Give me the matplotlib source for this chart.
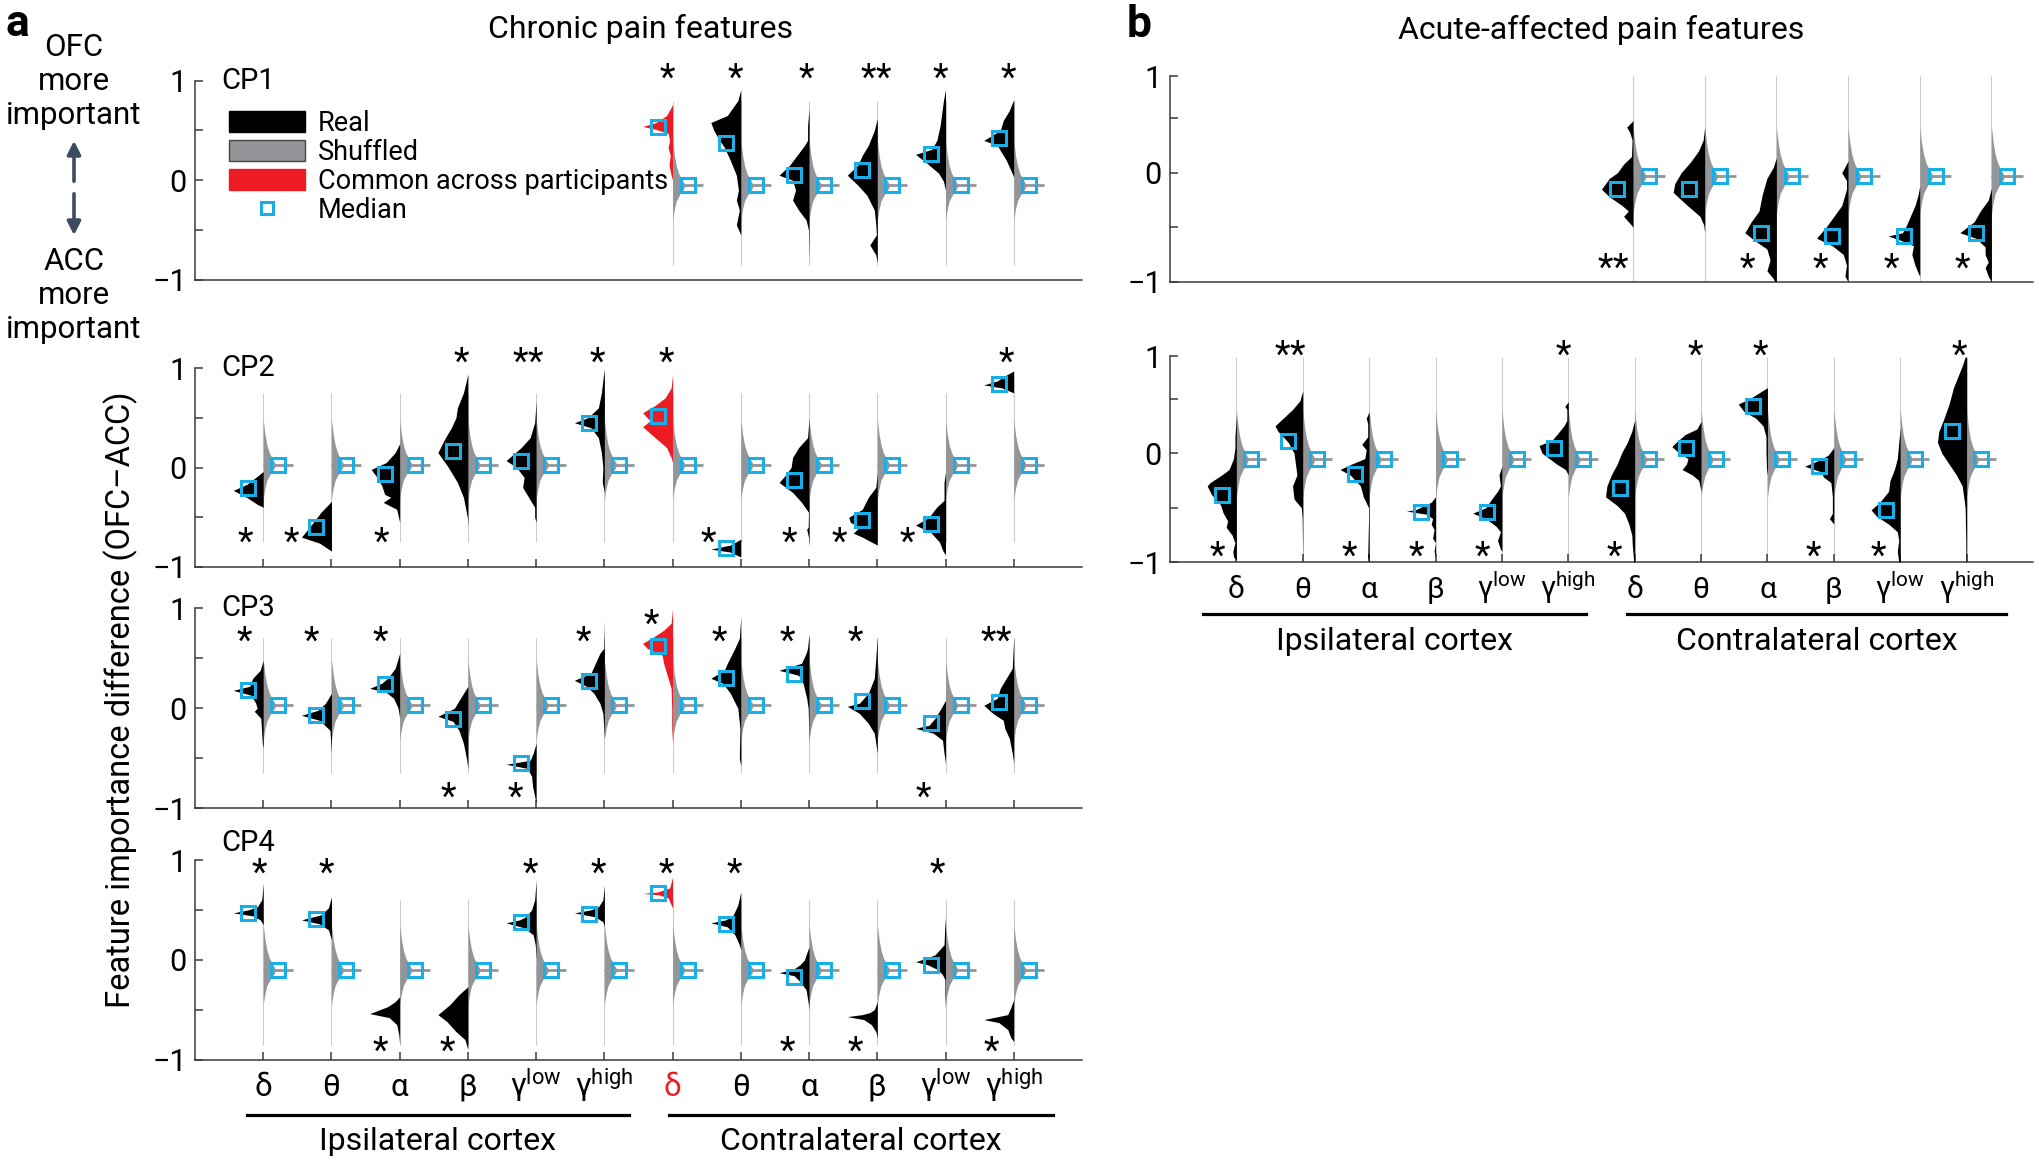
import numpy as np
import matplotlib
matplotlib.use('Agg')
import matplotlib.pyplot as plt
from matplotlib.patches import Patch, FancyArrowPatch
from matplotlib.lines import Line2D
from matplotlib import transforms

plt.rcParams['font.family'] = ['Roboto', 'DejaVu Sans']
plt.rcParams['mathtext.default'] = 'regular'

W, H = 2040, 1164
BLACK = '#000000'
GREY = '#939598'
RED = '#ED1C24'
CYAN = '#19AEE6'
SPINE = '#3a3a3a'
TAIL = '#cccccc'
ARROW = '#3d4b5e'
HALF = 0.44      # max half-width of a violin, in slot units
nan = np.nan

BANDS = ['δ', 'θ', 'α', 'β', r'$\mathregular{γ^{low}}$', r'$\mathregular{γ^{high}}$']
XLABELS = BANDS + BANDS

# shuffled violin profile, relative to its median: (dy, width fraction)
SHUF_DY = np.array([0.45, 0.3, 0.2, 0.12, 0.06, 0.02, 0.0, -0.04, -0.09, -0.16, -0.25, -0.35])
SHUF_W = np.array([0.0, 0.06, 0.12, 0.2, 0.3, 0.38, 0.42, 0.36, 0.24, 0.12, 0.05, 0.0])

# ---- panel a, CP1 ----
CP1_REAL = [None] * 6 + [
    [(0.76, 0), (0.65, 0.2), (0.58, 0.55), (0.54, 1.0), (0.51, 0.55), (0.47, 0.15), (0.40, 0.1), (0.33, 0.15), (0.25, 0.08), (0.15, 0.12), (0.05, 0.05), (0.0, 0)],
    [(0.91, 0), (0.8, 0.1), (0.65, 0.45), (0.58, 1.0), (0.5, 0.9), (0.42, 0.75), (0.33, 0.55), (0.2, 0.35), (0.05, 0.15), (-0.1, 0.08), (-0.2, 0.15), (-0.3, 0.05), (-0.45, 0.15), (-0.55, 0)],
    [(0.72, 0), (0.55, 0.05), (0.4, 0.05), (0.35, 0.15), (0.25, 0.4), (0.15, 0.65), (0.05, 1.0), (0.0, 0.55), (-0.1, 0.45), (-0.2, 0.55), (-0.3, 0.35), (-0.4, 0.1), (-0.5, 0.02), (-0.8, 0)],
    [(0.62, 0), (0.5, 0.1), (0.35, 0.3), (0.25, 0.5), (0.15, 0.65), (0.05, 1.0), (-0.05, 0.65), (-0.15, 0.35), (-0.3, 0.1), (-0.45, 0.05), (-0.55, 0.03), (-0.65, 0.25), (-0.75, 0.05), (-0.83, 0)],
    [(0.91, 0), (0.8, 0.07), (0.55, 0.18), (0.4, 0.29), (0.31, 0.46), (0.26, 1.0), (0.17, 0.62), (0.07, 0.23), (-0.01, 0.07), (-0.1, 0)],
    [(0.81, 0), (0.7, 0.15), (0.6, 0.35), (0.5, 0.45), (0.4, 1.0), (0.35, 0.55), (0.2, 0.25), (0.1, 0.1), (0.03, 0)],
]
CP1_MED = [nan] * 6 + [0.53, 0.37, 0.05, 0.10, 0.26, 0.42]
CP1_SHUF = [nan] * 6 + [-0.05] * 6
CP1_TAIL = (0.8, -0.85)
CP1_STARS = [(7, 1.09, '*', -0.07), (8, 1.09, '*', -0.08), (9, 1.09, '*', -0.04),
             (10, 1.09, '**', -0.02), (11, 1.09, '*', -0.07), (12, 1.09, '*', -0.08)]

# ---- panel a, CP2 ----
CP2_REAL = [
    [(-0.04, 0), (-0.1, 0.25), (-0.17, 0.55), (-0.23, 1.0), (-0.3, 0.55), (-0.37, 0.2), (-0.4, 0)],
    [(-0.34, 0), (-0.45, 0.35), (-0.55, 0.6), (-0.7, 1.0), (-0.76, 0.4), (-0.84, 0)],
    [(0.24, 0), (0.15, 0.15), (0.05, 0.45), (-0.02, 0.95), (-0.08, 0.8), (-0.18, 0.6), (-0.27, 0.5), (-0.3, 0.3), (-0.35, 0.55), (-0.42, 0.1), (-0.55, 0)],
    [(0.94, 0), (0.75, 0.15), (0.6, 0.35), (0.5, 0.4), (0.4, 0.55), (0.3, 0.75), (0.15, 1.0), (0.0, 0.65), (-0.15, 0.35), (-0.3, 0.15), (-0.5, 0.02), (-0.58, 0)],
    [(0.67, 0), (0.45, 0.05), (0.3, 0.2), (0.2, 0.5), (0.07, 1.0), (0.0, 0.65), (-0.1, 0.4), (-0.2, 0.45), (-0.3, 0.25), (-0.4, 0.05), (-0.5, 0.05), (-0.55, 0)],
    [(0.99, 0), (0.88, 0.05), (0.75, 0.1), (0.6, 0.2), (0.5, 0.55), (0.45, 1.0), (0.4, 0.45), (0.3, 0.2), (0.15, 0.1), (0.0, 0.05), (-0.15, 0.07), (-0.25, 0)],
    [(0.94, 0), (0.8, 0.05), (0.7, 0.25), (0.62, 0.6), (0.55, 1.0), (0.47, 0.75), (0.41, 1.0), (0.33, 0.7), (0.2, 0.2), (0.1, 0.05), (0.05, 0)],
    [(-0.72, 0), (-0.78, 0.35), (-0.82, 1.0), (-0.85, 0.35), (-0.9, 0)],
    [(0.5, 0), (0.3, 0.05), (0.2, 0.35), (0.1, 0.55), (0.0, 0.6), (-0.1, 0.85), (-0.15, 1.0), (-0.25, 0.55), (-0.35, 0.25), (-0.45, 0.02), (-0.6, 0.03), (-0.62, 0.08), (-0.7, 0.02), (-0.8, 0)],
    [(-0.05, 0), (-0.2, 0.05), (-0.3, 0.3), (-0.42, 0.5), (-0.5, 0.95), (-0.55, 0.9), (-0.6, 0.6), (-0.66, 0.8), (-0.7, 0.5), (-0.78, 0)],
    [(-0.05, 0), (-0.15, 0.05), (-0.33, 0.05), (-0.4, 0.3), (-0.5, 0.55), (-0.58, 1.0), (-0.65, 0.5), (-0.75, 0.2), (-0.83, 0.1), (-0.88, 0)],
    [(0.97, 0), (0.92, 0.3), (0.87, 0.55), (0.83, 1.0), (0.8, 0.4), (0.75, 0)],
]
CP2_MED = [-0.21, -0.6, -0.07, 0.17, 0.07, 0.45, 0.52, -0.81, -0.13, -0.53, -0.57, 0.84]
CP2_SHUF = [0.03] * 12
CP2_TAIL = (0.75, -0.75)
CP2_STARS = [(4, 1.12, '*', -0.09), (5, 1.12, '**', -0.12), (6, 1.12, '*', -0.1), (7, 1.12, '*', -0.09),
             (12, 1.12, '*', -0.1), (1, -0.69, '*', -0.26), (2, -0.69, '*', -0.59), (3, -0.69, '*', -0.27),
             (8, -0.69, '*', -0.48), (9, -0.69, '*', -0.29), (10, -0.69, '*', -0.56), (11, -0.69, '*', -0.56)]

# ---- panel a, CP3 ----
CP3_REAL = [
    [(0.48, 0), (0.38, 0.1), (0.3, 0.35), (0.22, 0.45), (0.18, 1.0), (0.13, 0.4), (0.05, 0.25), (0.0, 0.2), (-0.03, 0.3), (-0.1, 0.08), (-0.35, 0.03), (-0.4, 0)],
    [(0.15, 0), (0.05, 0.2), (-0.02, 0.45), (-0.07, 1.0), (-0.12, 0.4), (-0.22, 0.05), (-0.45, 0)],
    [(0.55, 0), (0.4, 0.15), (0.3, 0.4), (0.25, 0.6), (0.2, 1.0), (0.16, 0.45), (0.1, 0.2), (0.0, 0.05), (-0.1, 0)],
    [(0.22, 0), (0.1, 0.25), (0.0, 0.45), (-0.08, 1.0), (-0.13, 0.5), (-0.22, 0.3), (-0.35, 0.15), (-0.5, 0.05), (-0.6, 0)],
    [(-0.35, 0), (-0.45, 0.1), (-0.52, 0.2), (-0.56, 1.0), (-0.6, 0.3), (-0.68, 0.15), (-0.78, 0.12), (-0.88, 0.05), (-0.95, 0)],
    [(0.88, 0), (0.6, 0.02), (0.55, 0.15), (0.45, 0.3), (0.35, 0.45), (0.28, 1.0), (0.22, 0.6), (0.15, 0.35), (0.05, 0.15), (-0.05, 0.05), (-0.2, 0.02), (-0.3, 0)],
    [(1.0, 0), (0.85, 0.05), (0.78, 0.3), (0.72, 0.6), (0.65, 1.0), (0.6, 0.85), (0.53, 0.35), (0.45, 0.3), (0.35, 0.2), (0.2, 0.05), (0.0, 0.03), (-0.2, 0.03), (-0.35, 0)],
    [(0.92, 0), (0.7, 0.05), (0.6, 0.2), (0.45, 0.45), (0.38, 0.55), (0.3, 1.0), (0.25, 0.6), (0.15, 0.35), (0.0, 0.1), (-0.2, 0.03), (-0.5, 0.05), (-0.58, 0)],
    [(0.75, 0), (0.6, 0.05), (0.55, 0.1), (0.45, 0.25), (0.38, 1.0), (0.33, 0.35), (0.25, 0.2), (0.1, 0.08), (0.0, 0.03), (-0.35, 0)],
    [(0.72, 0), (0.5, 0.05), (0.3, 0.1), (0.15, 0.3), (0.05, 0.6), (0.02, 1.0), (-0.05, 0.6), (-0.15, 0.3), (-0.25, 0.1), (-0.45, 0)],
    [(0.08, 0), (0.0, 0.15), (-0.1, 0.35), (-0.17, 0.55), (-0.2, 1.0), (-0.25, 0.4), (-0.32, 0.1), (-0.45, 0.05), (-0.55, 0)],
    [(0.72, 0), (0.4, 0.05), (0.3, 0.25), (0.2, 0.45), (0.1, 0.55), (0.03, 1.0), (-0.05, 0.7), (-0.12, 0.35), (-0.2, 0.3), (-0.3, 0.15), (-0.45, 0.05), (-0.55, 0)],
]
CP3_MED = [0.18, -0.07, 0.24, -0.11, -0.55, 0.27, 0.62, 0.30, 0.34, 0.07, -0.15, 0.06]
CP3_SHUF = [0.033] * 12
CP3_TAIL = (0.7, -0.65)
CP3_STARS = [(1, 0.73, '*', -0.28), (2, 0.73, '*', -0.29), (3, 0.73, '*', -0.28), (6, 0.73, '*', -0.3),
             (7, 0.9, '*', -0.31), (8, 0.73, '*', -0.31), (9, 0.73, '*', -0.32), (10, 0.73, '*', -0.32),
             (12, 0.73, '**', -0.26), (4, -0.83, '*', -0.29), (5, -0.83, '*', -0.3), (11, -0.83, '*', -0.32)]

# ---- panel a, CP4 ----
CP4_REAL = [
    [(0.77, 0), (0.6, 0.05), (0.53, 0.2), (0.5, 0.5), (0.47, 1.0), (0.44, 0.35), (0.4, 0.1), (0.35, 0)],
    [(0.63, 0), (0.52, 0.1), (0.45, 0.35), (0.4, 1.0), (0.36, 0.4), (0.3, 0.1), (0.2, 0)],
    [(-0.37, 0), (-0.42, 0.15), (-0.47, 0.4), (-0.54, 1.0), (-0.58, 0.35), (-0.65, 0.1), (-0.75, 0.03), (-0.85, 0)],
    [(-0.27, 0), (-0.35, 0.3), (-0.45, 0.6), (-0.55, 1.0), (-0.62, 0.7), (-0.72, 0.4), (-0.8, 0.1), (-0.9, 0)],
    [(0.8, 0), (0.6, 0.05), (0.5, 0.15), (0.43, 0.35), (0.4, 0.55), (0.37, 1.0), (0.32, 0.4), (0.25, 0.1), (0.15, 0.03), (0.0, 0)],
    [(0.75, 0), (0.6, 0.05), (0.53, 0.2), (0.5, 0.45), (0.47, 1.0), (0.43, 0.3), (0.38, 0.05), (0.33, 0)],
    [(0.83, 0), (0.72, 0.1), (0.7, 0.3), (0.68, 0.5), (0.665, 1.0), (0.65, 0.45), (0.62, 0.15), (0.55, 0.05), (0.52, 0)],
    [(0.68, 0), (0.55, 0.1), (0.45, 0.25), (0.4, 0.5), (0.37, 1.0), (0.33, 0.45), (0.25, 0.2), (0.15, 0.05), (0.1, 0)],
    [(0.13, 0), (0.05, 0.1), (0.0, 0.15), (-0.05, 0.3), (-0.1, 0.55), (-0.13, 1.0), (-0.16, 0.5), (-0.22, 0.3), (-0.3, 0.1), (-0.45, 0.02), (-0.5, 0)],
    [(-0.42, 0), (-0.5, 0.1), (-0.53, 0.25), (-0.55, 0.5), (-0.57, 1.0), (-0.6, 0.45), (-0.65, 0.2), (-0.72, 0.05), (-0.78, 0)],
    [(0.43, 0), (0.3, 0.03), (0.15, 0.05), (0.1, 0.2), (0.05, 0.35), (0.02, 0.6), (-0.02, 1.0), (-0.05, 0.6), (-0.1, 0.25), (-0.15, 0.1), (-0.2, 0.02), (-0.35, 0.02), (-0.5, 0)],
    [(-0.4, 0), (-0.48, 0.1), (-0.55, 0.2), (-0.6, 1.0), (-0.63, 0.5), (-0.7, 0.2), (-0.78, 0.1), (-0.82, 0)],
]
CP4_MED = [0.47, 0.41, nan, nan, 0.38, 0.46, 0.67, 0.36, -0.17, nan, -0.05, nan]
CP4_SHUF = [-0.1] * 12
CP4_TAIL = (0.6, -0.85)
CP4_STARS = [(1, 0.93, '*', -0.05), (2, 0.93, '*', -0.08), (5, 0.93, '*', -0.09), (6, 0.93, '*', -0.09),
             (7, 0.93, '*', -0.09), (8, 0.93, '*', -0.09), (11, 0.93, '*', -0.12), (3, -0.86, '*', -0.28),
             (4, -0.86, '*', -0.3), (9, -0.86, '*', -0.32), (10, -0.86, '*', -0.32), (12, -0.86, '*', -0.32)]

# ---- panel b, top ----
B1_REAL = [None] * 6 + [
    [(0.48, 0), (0.42, 0.2), (0.37, 0.1), (0.3, 0.03), (0.15, 0.05), (0.08, 0.3), (0.0, 0.5), (-0.05, 0.75), (-0.15, 1.0), (-0.22, 0.75), (-0.3, 0.35), (-0.35, 0.15), (-0.4, 0.3), (-0.48, 0.05), (-0.5, 0)],
    [(0.42, 0), (0.3, 0.05), (0.2, 0.2), (0.1, 0.45), (0.0, 0.75), (-0.1, 0.95), (-0.18, 1.0), (-0.3, 0.55), (-0.4, 0.15), (-0.48, 0.03), (-0.55, 0)],
    [(0.14, 0), (0.05, 0.1), (-0.05, 0.3), (-0.2, 0.45), (-0.35, 0.55), (-0.45, 0.8), (-0.55, 1.0), (-0.62, 0.7), (-0.7, 0.3), (-0.8, 0.2), (-0.9, 0.3), (-0.97, 0.1), (-1.0, 0.05)],
    [(0.11, 0), (0.0, 0.2), (-0.07, 0.05), (-0.15, 0.05), (-0.3, 0.2), (-0.4, 0.45), (-0.5, 0.7), (-0.6, 1.0), (-0.67, 0.5), (-0.75, 0.15), (-0.85, 0.05), (-0.95, 0.1), (-1.0, 0)],
    [(-0.12, 0), (-0.2, 0.05), (-0.3, 0.15), (-0.4, 0.3), (-0.5, 0.45), (-0.55, 0.55), (-0.58, 1.0), (-0.62, 0.6), (-0.67, 0.2), (-0.75, 0.25), (-0.85, 0.15), (-0.92, 0.05), (-0.95, 0)],
    [(-0.14, 0), (-0.25, 0.1), (-0.35, 0.35), (-0.45, 0.55), (-0.55, 1.0), (-0.6, 0.5), (-0.68, 0.2), (-0.75, 0.2), (-0.82, 0.1), (-0.87, 0.2), (-0.95, 0.1), (-1.0, 0)],
]
B1_MED = [nan] * 6 + [-0.15, -0.15, -0.55, -0.58, -0.58, -0.55]
B1_SHUF = [nan] * 6 + [-0.03] * 6
B1_TAIL = (0.9, -1.0)
B1_STARS = [(7, -0.82, '**', -0.28), (9, -0.82, '*', -0.4), (10, -0.82, '*', -0.39),
            (11, -0.82, '*', -0.4), (12, -0.82, '*', -0.4)]

# ---- panel b, bottom ----
B2_REAL = [
    [(0.35, 0), (0.15, 0.05), (0.05, 0.05), (-0.05, 0.1), (-0.15, 0.25), (-0.2, 0.5), (-0.27, 0.9), (-0.3, 1.0), (-0.38, 0.85), (-0.47, 0.55), (-0.55, 0.45), (-0.62, 0.3), (-0.68, 0.35), (-0.75, 0.15), (-0.82, 0.05), (-0.9, 0.12), (-0.95, 0.1), (-0.98, 0)],
    [(0.57, 0), (0.48, 0.1), (0.4, 0.35), (0.3, 0.75), (0.25, 0.95), (0.2, 0.85), (0.1, 0.5), (0.0, 0.3), (-0.1, 0.25), (-0.2, 0.2), (-0.3, 0.35), (-0.42, 0.3), (-0.5, 0.05), (-0.6, 0.02), (-1.0, 0)],
    [(0.38, 0), (0.32, 0.1), (0.27, 0.05), (0.15, 0.05), (0.08, 0.25), (0.03, 0.1), (-0.05, 0.15), (-0.1, 0.6), (-0.15, 1.0), (-0.2, 0.65), (-0.3, 0.3), (-0.4, 0.2), (-0.5, 0.02), (-0.6, 0.02), (-0.95, 0.05), (-1.0, 0)],
    [(-0.4, 0), (-0.45, 0.15), (-0.52, 0.7), (-0.53, 1.0), (-0.56, 0.3), (-0.6, 0.1), (-0.65, 0.15), (-0.7, 0.05), (-0.78, 0.1), (-0.82, 0), (-0.9, 0.05), (-0.95, 0)],
    [(-0.12, 0), (-0.2, 0.1), (-0.3, 0.05), (-0.35, 0.15), (-0.42, 0.35), (-0.5, 0.55), (-0.55, 1.0), (-0.6, 0.55), (-0.67, 0.2), (-0.72, 0.05), (-0.8, 0.15), (-0.88, 0.05), (-0.9, 0)],
    [(0.47, 0), (0.43, 0.12), (0.4, 0.05), (0.3, 0.05), (0.25, 0.15), (0.2, 0.3), (0.12, 0.55), (0.07, 1.0), (0.0, 0.9), (-0.05, 0.65), (-0.1, 0.4), (-0.15, 0.1), (-0.2, 0)],
    [(0.3, 0), (0.2, 0.1), (0.1, 0.25), (0.0, 0.45), (-0.1, 0.6), (-0.2, 0.8), (-0.3, 0.95), (-0.4, 1.0), (-0.48, 0.6), (-0.55, 0.35), (-0.65, 0.2), (-0.75, 0.1), (-0.85, 0.08), (-1.0, 0.03)],
    [(0.29, 0), (0.22, 0.15), (0.17, 0.55), (0.1, 0.85), (0.06, 1.0), (0.0, 0.75), (-0.05, 0.45), (-0.1, 0.5), (-0.15, 0.65), (-0.2, 0.3), (-0.25, 0.08), (-0.35, 0)],
    [(0.6, 0), (0.55, 0.3), (0.5, 0.6), (0.45, 1.0), (0.38, 0.8), (0.32, 0.4), (0.25, 0.15), (0.15, 0.05), (0.0, 0.05), (-0.15, 0.03), (-0.2, 0)],
    [(0.05, 0), (-0.02, 0.2), (-0.07, 0.55), (-0.12, 1.0), (-0.17, 0.45), (-0.22, 0.35), (-0.27, 0.1), (-0.4, 0.05), (-0.55, 0.05), (-0.6, 0.15), (-0.65, 0)],
    [(0.23, 0), (0.1, 0.05), (-0.05, 0.1), (-0.15, 0.2), (-0.25, 0.35), (-0.35, 0.4), (-0.45, 0.7), (-0.52, 1.0), (-0.58, 0.8), (-0.65, 0.4), (-0.72, 0.1), (-0.8, 0.05), (-0.9, 0.1), (-1.0, 0.05)],
    [(0.88, 0.05), (0.8, 0.15), (0.7, 0.3), (0.6, 0.45), (0.45, 0.6), (0.3, 0.8), (0.2, 0.95), (0.1, 1.0), (0.0, 0.85), (-0.1, 0.6), (-0.2, 0.35), (-0.3, 0.15), (-0.5, 0.05), (-0.8, 0.03), (-1.0, 0.02)],
]
B2_MED = [-0.38, 0.11, -0.19, -0.54, -0.54, 0.05, -0.32, 0.05, 0.43, -0.12, -0.52, 0.2]
B2_SHUF = [-0.055] * 12
B2_TAIL = (0.88, -1.0)
B2_STARS = [(2, 0.95, '**', -0.19), (6, 0.95, '*', -0.08), (8, 0.95, '*', -0.09), (9, 0.95, '*', -0.11),
            (12, 0.95, '*', -0.1), (1, -0.89, '*', -0.29), (3, -0.89, '*', -0.3), (4, -0.89, '*', -0.29),
            (5, -0.89, '*', -0.29), (7, -0.89, '*', -0.3), (10, -0.89, '*', -0.31), (11, -0.89, '*', -0.32)]

fig = plt.figure(figsize=(W / 100, H / 100), dpi=100)


def make_axes(left, right, top, bottom):
    return fig.add_axes([left / W, 1 - bottom / H, (right - left) / W, (bottom - top) / H])


def style(ax, xlim, ylim, ytop, ticks=True):
    ax.set_xlim(*xlim)
    ax.set_ylim(*ylim)
    for s in ['top', 'right']:
        ax.spines[s].set_visible(False)
    for s in ['left', 'bottom']:
        ax.spines[s].set_color(SPINE)
        ax.spines[s].set_linewidth(1.1)
    ax.set_yticks([-1, -0.5, 0, 0.5, ytop], ['\u22121', '', '0', '', '1'])
    ax.tick_params(axis='y', direction='in', length=6, width=1.1, color=SPINE, labelsize=22, pad=6)
    if ticks:
        ax.set_xticks(range(1, 13), [''] * 12)
        ax.tick_params(axis='x', direction='in', length=6, width=1.1, color=SPINE)
    else:
        ax.set_xticks([])


def draw_panel(ax, real, med, shuf, tail, stars, red_slot=None):
    for i in range(12):
        x0 = i + 1
        if not np.isnan(shuf[i]):
            ax.vlines(x0, tail[1], tail[0], color=TAIL, lw=0.8, zorder=1)
            ax.fill_betweenx(shuf[i] + SHUF_DY, x0, x0 + HALF * SHUF_W, color=GREY, lw=0, zorder=2)
            ax.hlines(shuf[i], x0, x0 + HALF, color=GREY, lw=2, zorder=2)
            ax.plot(x0 + 0.22, shuf[i], 's', ms=10, mfc='none', mec=CYAN, mew=2.2, zorder=5)
        if real[i] is not None:
            y, w = np.array(real[i]).T
            c = RED if x0 == red_slot else BLACK
            ax.fill_betweenx(y, x0 - HALF * w, x0, color=c, lw=0, zorder=3)
        if not np.isnan(med[i]):
            ax.plot(x0 - 0.22, med[i], 's', ms=10, mfc='none', mec=CYAN, mew=2.2, zorder=5)
    # asterisks as tight mathtext so their boxes hug the glyphs
    for slot, y, txt, dx in stars:
        s = r'$\mathregular{' + '{*}' * len(txt) + '}$'
        ax.annotate(s, (slot + dx, y), xytext=(0, -4), textcoords='offset points',
                    ha='center', va='center', fontsize=26, annotation_clip=False)


def band_labels(ax, size, red_slot=None):
    ax.set_xticks(range(1, 13), XLABELS)
    ax.tick_params(axis='x', labelsize=size, pad=26)
    for k, lab in enumerate(ax.get_xticklabels()):
        lab.set_verticalalignment('baseline')
        if k + 1 == red_slot:
            lab.set_color(RED)


def groups(ax, spans, line_y, text_y):
    tr = transforms.blended_transform_factory(ax.transData, ax.transAxes)
    for (x1, x2), name in zip(spans, ['Ipsilateral cortex', 'Contralateral cortex']):
        ax.plot([x1, x2], [line_y, line_y], color=BLACK, lw=2.3, transform=tr, clip_on=False)
        ax.text((x1 + x2) / 2, text_y, name, transform=tr, ha='center', va='center', fontsize=23)


# panel a
a_rows = [(80.7, 279.7), (368, 567), (608.3, 808.3), (860, 1059.5)]
a_data = [(CP1_REAL, CP1_MED, CP1_SHUF, CP1_TAIL, CP1_STARS, 'CP1', 1.0),
          (CP2_REAL, CP2_MED, CP2_SHUF, CP2_TAIL, CP2_STARS, 'CP2', 1.0),
          (CP3_REAL, CP3_MED, CP3_SHUF, CP3_TAIL, CP3_STARS, 'CP3', 1.0),
          (CP4_REAL, CP4_MED, CP4_SHUF, CP4_TAIL, CP4_STARS, 'CP4', 1.085)]
a_axes = []
for k, ((top, bot), (real, med, shuf, tail, stars, name, ly)) in enumerate(zip(a_rows, a_data)):
    ax = make_axes(195, 1082, top, bot)
    style(ax, (0, 13), (-1, 1), 1, ticks=k > 0)
    draw_panel(ax, real, med, shuf, tail, stars, red_slot=7)
    ax.text(0.03, ly, name, transform=ax.transAxes, ha='left', va='center', fontsize=21)
    a_axes.append(ax)

band_labels(a_axes[-1], 22.5, red_slot=7)
groups(a_axes[-1], [(0.76, 6.36), (6.95, 12.57)], -0.278, -0.41)

handles = [Patch(fc=BLACK, ec=BLACK), Patch(fc=GREY, ec='#444444', lw=1), Patch(fc=RED, ec=RED),
           Line2D([], [], ls='none', marker='s', ms=8, mfc='none', mec=CYAN, mew=2.2)]
a_axes[0].legend(handles, ['Real', 'Shuffled', 'Common across participants', 'Median'],
                 loc='upper left', bbox_to_anchor=(0.038, 0.855), frameon=False, fontsize=19.5,
                 handlelength=2.8, handleheight=0.8, handletextpad=0.5, labelspacing=0.08,
                 borderpad=0, borderaxespad=0)

# panel b
b1 = make_axes(1170, 2033, 76, 281.7)
style(b1, (0.54, 12.58), (-1, 0.89), 0.89, ticks=False)
draw_panel(b1, B1_REAL, B1_MED, B1_SHUF, B1_TAIL, B1_STARS)

b2 = make_axes(1170, 2033, 356, 562.3)
style(b2, (0, 13), (-1, 0.89), 0.89, ticks=True)
draw_panel(b2, B2_REAL, B2_MED, B2_SHUF, B2_TAIL, B2_STARS)
band_labels(b2, 21.5)
groups(b2, [(0.5, 6.26), (6.88, 12.6)], -0.251, -0.385)

# titles, labels, annotations
fig.text(641 / W, 1 - 28.6 / H, 'Chronic pain features', ha='center', va='center', fontsize=23)
fig.text(1601 / W, 1 - 30 / H, 'Acute-affected pain features', ha='center', va='center', fontsize=23)
fig.text(17 / W, 1 - 24 / H, 'a', ha='center', va='center', fontsize=32, fontweight='bold')
fig.text(1139 / W, 1 - 25 / H, 'b', ha='center', va='center', fontsize=32, fontweight='bold')
fig.text(121 / W, 1 - 700 / H, 'Feature importance difference (OFC\u2013ACC)', rotation=90,
         ha='center', va='center', fontsize=23.5)
for word, y in [('OFC', 47), ('more', 81), ('important', 115), ('ACC', 261), ('more', 295), ('important', 329)]:
    fig.text(74 / W, 1 - y / H, word, ha='center', va='center', fontsize=22.5)
for y1, y2 in [(184, 138), (191, 238)]:
    fig.add_artist(FancyArrowPatch((74 / W, 1 - y1 / H), (74 / W, 1 - y2 / H), transform=fig.transFigure,
                                   arrowstyle='-|>', mutation_scale=20, lw=2.6, color=ARROW))

fig.savefig('out.png', dpi=100)
